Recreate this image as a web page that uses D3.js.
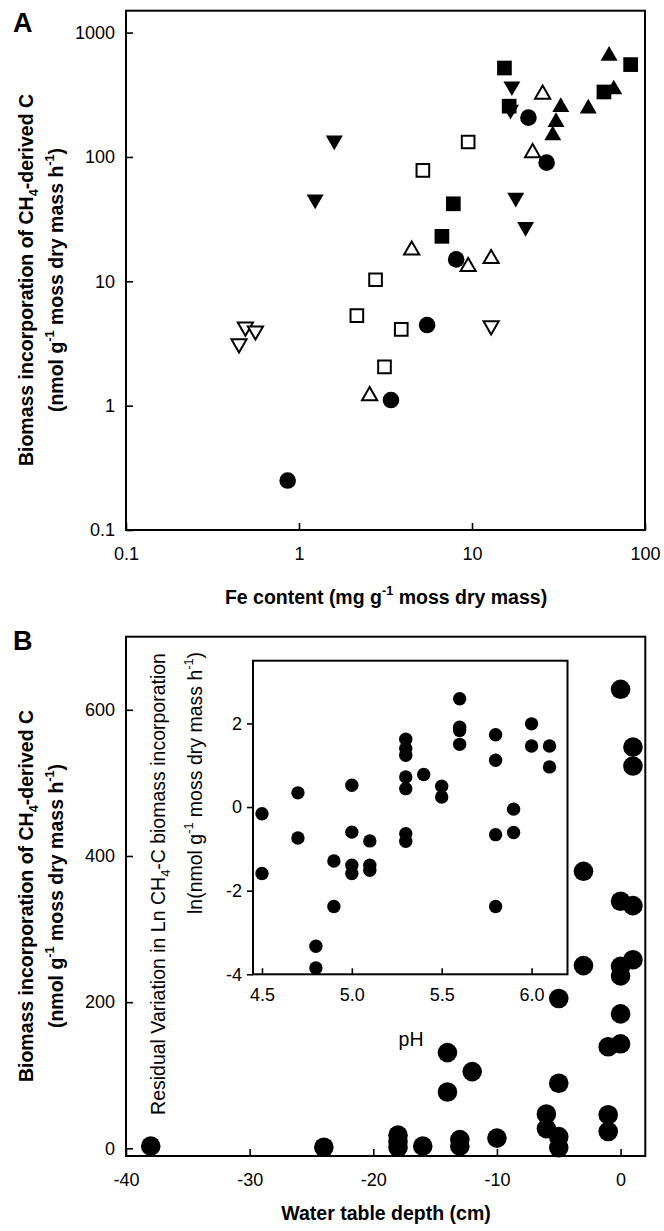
<!DOCTYPE html>
<html>
<head>
<meta charset="utf-8">
<script src="https://cdn.jsdelivr.net/npm/d3@7"></script>
<style>
  body { margin: 0; background: #fff; }
  text { font-family: "Liberation Sans", Arial, sans-serif; fill: #000; }
</style>
</head>
<body>
<svg id="chart" width="664" height="1231"></svg>
<script>
// ---- panel A : Fe content (mg/g) vs biomass incorporation (nmol/g/h), one list per marker
var filledSquares = [[15.4, 519], [82.6, 553], [57.9, 333], [16.4, 256], [7.8, 42], [6.7, 23]];
var openSquares   = [[9.5, 132], [5.2, 78], [2.77, 10.3], [2.16, 5.3], [3.9, 4.1], [3.12, 2.05]];
var filledUp      = [[62, 650], [66, 349], [32.6, 252], [47, 245], [30.6, 191], [29.3, 149]];
var openUp        = [[25.6, 319], [22.4, 108], [4.48, 17.8], [9.5, 13.1], [12.9, 15.2], [2.56, 1.2]];
var filledDown    = [[17, 370], [16.7, 240], [1.6, 136], [1.24, 45.5], [17.9, 47], [20.4, 27.4]];
var openDown      = [[0.49, 4.3], [0.56, 4.0], [0.45, 3.15], [12.9, 4.4]];
var filledCircles = [[21.2, 207], [27, 90], [8.1, 15], [5.5, 4.45], [3.4, 1.11], [0.86, 0.25]];

var feTicks = [0.1, 1, 10, 100];
var bioTicks = [0.1, 1, 10, 100, 1000];

// ---- panel B : water table depth (cm) vs incorporation
var depth = [-38, -24, -18, -18, -18, -16, -13, -13, -10, -14, -14, -12, -6, -6, -5, -5, -5, -5,
             -3, -3, -1, -1, -1, 0, 0, 0, 0, 1, 0, 1, 0, 1, 1];
var incorporation = [3, 1.4, 18, 9, 1.4, 3, 12, 3, 14, 131, 77, 105, 47, 27, 16, 1, 89, 205,
             250, 379, 46, 23, 139, 143, 184, 236, 249, 258, 338, 332, 628, 549, 523];
var depthTicks = [-40, -30, -20, -10, 0];
var incTicks = [0, 200, 400, 600];

// ---- inset : pH vs residual
var ph = [4.5, 4.5, 4.7, 4.7, 4.8, 4.8, 4.9, 4.9, 5.0, 5.0, 5.0, 5.0, 5.1, 5.1, 5.1,
          5.3, 5.3, 5.3, 5.3, 5.3, 5.3, 5.3, 5.4, 5.5, 5.5, 5.6, 5.6, 5.6, 5.6,
          5.8, 5.8, 5.8, 5.8, 5.9, 5.9, 6.0, 6.0, 6.1, 6.1];
var residual = [-0.16, -1.59, 0.34, -0.74, -3.33, -3.85, -1.29, -2.38, 0.52, -0.6, -1.39, -1.59, -0.81, -1.39, -1.51,
          1.62, 1.40, 1.24, 0.72, 0.44, -0.64, -0.82, 0.78, 0.50, 0.24, 2.59, 1.91, 1.83, 1.50,
          1.73, 1.12, -0.66, -2.38, -0.05, -0.61, 1.99, 1.46, 1.46, 0.96];
var phTicks = [4.5, 5.0, 5.5, 6.0];
var residTicks = [-4, -2, 0, 2];

var svg = d3.select("#chart");
var tickFont = 18, titleFont = 19.5;

// text with sub/superscript pieces: [string, shift] where shift is in em (+ up, - down)
function richText(sel, parts, size) {
  var prev = 0;
  parts.forEach(function(p) {
    var shift = p[1] || 0;
    var t = sel.append("tspan").text(p[0]);
    var dy = -(shift - prev) * size;
    if (dy) t.attr("dy", dy);
    if (shift) t.attr("font-size", size * 0.65);
    prev = shift;
  });
}

function styleAxis(g, size) {
  g.select(".domain").remove();
  g.selectAll(".tick line").attr("stroke", "#000").attr("stroke-width", 1.6);
  g.selectAll(".tick text").attr("font-size", size).attr("font-family", '"Liberation Sans", Arial, sans-serif').attr("fill", "#000");
}

function frame(x0, y0, x1, y1, fill) {
  svg.append("rect").attr("x", x0).attr("y", y0).attr("width", x1 - x0).attr("height", y1 - y0)
    .attr("fill", fill || "none").attr("stroke", "#000").attr("stroke-width", 2);
}

// ================= Panel A =================
var xA = d3.scaleLog().domain([0.1, 100]).range([126, 645]);
var yA = d3.scaleLog().domain([0.1, 1500]).range([530, 10.7]);

frame(126, 10.7, 645, 530);

svg.append("g").attr("transform", "translate(0,530)")
  .call(d3.axisBottom(xA).tickValues(feTicks).tickFormat(String).tickSize(-7).tickPadding(17))
  .call(styleAxis, tickFont);
svg.append("g").attr("transform", "translate(126,0)")
  .call(d3.axisLeft(yA).tickValues(bioTicks).tickFormat(String).tickSize(-7).tickPadding(11))
  .call(styleAxis, tickFont);

var sq = d3.symbol().type(d3.symbolSquare);
var tri = d3.symbol().type(d3.symbolTriangle);
var circ = d3.symbol().type(d3.symbolCircle);

function drawSeries(data, path, open, rotate) {
  svg.append("g").selectAll("path").data(data).enter().append("path")
    .attr("d", path)
    .attr("transform", function(d) {
      return "translate(" + xA(d[0]) + "," + yA(d[1]) + ")" + (rotate ? " rotate(180)" : "");
    })
    .attr("fill", open ? "#fff" : "#000")
    .attr("stroke", "#000")
    .attr("stroke-width", open ? 2 : 0);
}

drawSeries(openDown, tri.size(100)(), true, true);
drawSeries(openUp, tri.size(100)(), true, false);
drawSeries(openSquares, sq.size(160)(), true, false);
drawSeries(filledDown, tri.size(125)(), false, true);
drawSeries(filledSquares, sq.size(216)(), false, false);
drawSeries(filledUp, tri.size(125)(), false, false);
drawSeries(filledCircles, circ.size(216)(), false, false);

svg.append("text").attr("x", 13).attr("y", 32).attr("font-size", 27).attr("font-weight", "bold").text("A");

var tA = svg.append("text").attr("x", 386).attr("y", 604).attr("text-anchor", "middle")
  .attr("font-size", titleFont).attr("font-weight", "bold");
richText(tA, [["Fe content (mg g"], ["-1", 0.45], [" moss dry mass)"]], titleFont);

function yTitle(cy) {
  var l1 = svg.append("text").attr("transform", "translate(33," + cy + ") rotate(-90)")
    .attr("text-anchor", "middle").attr("font-size", titleFont).attr("font-weight", "bold");
  richText(l1, [["Biomass incorporation of CH"], ["4", -0.25], ["-derived C"]], titleFont);
  var l2 = svg.append("text").attr("transform", "translate(63," + cy + ") rotate(-90)")
    .attr("text-anchor", "middle").attr("font-size", titleFont).attr("font-weight", "bold");
  richText(l2, [["(nmol g"], ["-1", 0.45], [" moss dry mass h"], ["-1", 0.45], [")"]], titleFont);
}
yTitle(280);

// ================= Panel B =================
var xB = d3.scaleLinear().domain([-40, 2]).range([126, 645.3]);
var yB = d3.scaleLinear().domain([-10.5, 700]).range([1156, 636.7]);

frame(126, 636.7, 645.3, 1156);

svg.append("g").attr("transform", "translate(0,1156)")
  .call(d3.axisBottom(xB).tickValues(depthTicks).tickFormat(String).tickSize(-7).tickPadding(17))
  .call(styleAxis, tickFont);
svg.append("g").attr("transform", "translate(126,0)")
  .call(d3.axisLeft(yB).tickValues(incTicks).tickFormat(String).tickSize(-7).tickPadding(11))
  .call(styleAxis, tickFont);

// inset box (white) sits over the main plot
var xI = d3.scaleLinear().domain([4.45, 6.2]).range([253, 567.5]);
var yI = d3.scaleLinear().domain([-4, 3.5]).range([974.3, 660.7]);

svg.append("g").selectAll("circle").data(depth).enter().append("circle")
  .attr("cx", function(d) { return xB(d); })
  .attr("cy", function(d, i) { return yB(incorporation[i]); })
  .attr("r", 9.8).attr("fill", "#000");

frame(253, 660.7, 567.5, 974.3);

svg.append("g").attr("transform", "translate(0,974.3)")
  .call(d3.axisBottom(xI).tickValues(phTicks).tickFormat(d3.format(".1f")).tickSize(-6).tickPadding(14))
  .call(styleAxis, tickFont);
svg.append("g").attr("transform", "translate(253,0)")
  .call(d3.axisLeft(yI).tickValues(residTicks).tickFormat(String).tickSize(6).tickPadding(5))
  .call(styleAxis, tickFont);

svg.append("g").selectAll("circle").data(ph).enter().append("circle")
  .attr("cx", function(d) { return xI(d); })
  .attr("cy", function(d, i) { return yI(residual[i]); })
  .attr("r", 6.7).attr("fill", "#000");

var i1 = svg.append("text").attr("transform", "translate(165,884) rotate(-90)")
  .attr("text-anchor", "middle").attr("font-size", titleFont);
richText(i1, [["Residual Variation in Ln CH"], ["4", -0.25], ["-C biomass incorporation"]], titleFont);
var i2 = svg.append("text").attr("transform", "translate(202,783) rotate(-90)")
  .attr("text-anchor", "middle").attr("font-size", titleFont);
richText(i2, [["ln(nmol g"], ["-1", 0.45], [" moss dry mass h"], ["-1", 0.45], [")"]], titleFont);

svg.append("text").attr("x", 411).attr("y", 1045.5).attr("text-anchor", "middle")
  .attr("font-size", titleFont).text("pH");

svg.append("text").attr("x", 13).attr("y", 650).attr("font-size", 27).attr("font-weight", "bold").text("B");

var tB = svg.append("text").attr("x", 386).attr("y", 1220).attr("text-anchor", "middle")
  .attr("font-size", titleFont).attr("font-weight", "bold").text("Water table depth (cm)");

yTitle(896);
</script>
</body>
</html>
